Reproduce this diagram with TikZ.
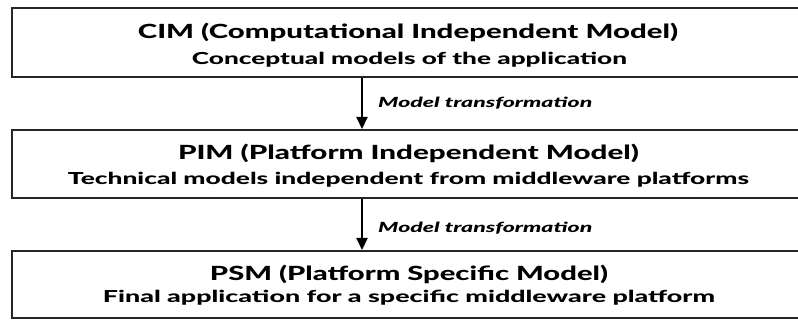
\documentclass[tikz,border=0pt]{standalone}
\usepackage{fontspec}
\setmainfont{Lato}[BoldFont={Lato Heavy}, BoldItalicFont={Lato Heavy Italic}]
\usepackage{graphicx}
\usetikzlibrary{arrows.meta}
\tikzset{
  modelbox/.style={draw=black!85, line width=2pt, fill=white, inner sep=0pt, minimum width=798.5pt},
  txt/.style={inner sep=0pt, anchor=base, text=black},
  conn/.style={line width=2pt, draw=black, -{Triangle[width=11pt,length=12pt]}},
  lbl/.style={inner sep=0pt, anchor=base west, text=black}
}
\newcommand{\fitline}[3]{{\fontsize{#2}{#2}\selectfont\resizebox{#1}{\height}{#3}}}
\begin{document}
\begin{tikzpicture}[x=1pt,y=-1pt]
\useasboundingbox[fill=white] (0,0) rectangle (798,320);
\node[modelbox, minimum height=69pt] (cim) at (410.75,43) {};
\node[modelbox, minimum height=68pt] (pim) at (410.75,164) {};
\node[modelbox, minimum height=67.5pt] (psm) at (410.75,284.75) {};
\node[txt] (cimt) at (408,39) {\fitline{540pt}{19.5pt}{\bfseries CIM (Computational Independent Model)}};
\node[txt] (cims) at (409.5,65) {\fitline{435pt}{16.5pt}{\bfseries Conceptual models of the application}};
\node[txt] (pimt) at (408.5,160) {\fitline{461pt}{19.5pt}{\bfseries PIM (Platform Independent Model)}};
\node[txt] (pims) at (408.5,185) {\fitline{681pt}{16.5pt}{\bfseries Technical models independent from middleware platforms}};
\node[txt] (psmt) at (409,280) {\fitline{398pt}{19.5pt}{\bfseries PSM (Platform Specific Model)}};
\node[txt] (psms) at (409,303) {\fitline{612pt}{16.5pt}{\bfseries Final application for a specific middleware platform}};
\coordinate (ax) at (362,0);
\draw[conn] (ax |- cim.south) -- (ax |- pim.north);
\draw[conn] (ax |- pim.south) -- (ax |- psm.north);
\node[lbl] (l1) at (378,108) {\fitline{214pt}{14pt}{\bfseries\itshape Model transformation}};
\node[lbl] (l2) at (378,233) {\fitline{214pt}{14pt}{\bfseries\itshape Model transformation}};
\end{tikzpicture}
\end{document}
